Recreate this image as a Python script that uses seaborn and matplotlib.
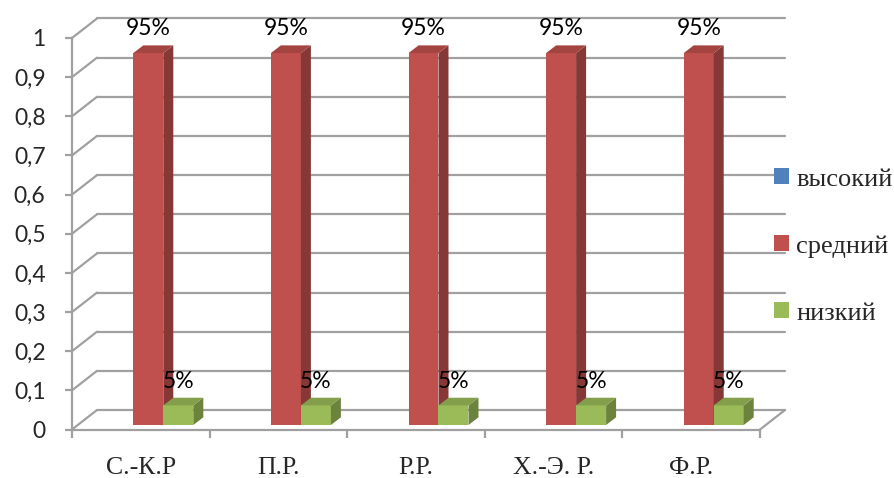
import numpy as np
import pandas as pd
import seaborn as sns
import matplotlib.colors as mcolors
from matplotlib import pyplot as plt
from matplotlib.patches import Polygon, Patch
from matplotlib.font_manager import FontProperties

# Данные
categories = ["С.-К.Р", "П.Р.", "Р.Р.", "Х.-Э. Р.", "Ф.Р."]
levels = ["высокий", "средний", "низкий"]
vysokiy = [0, 0, 0, 0, 0]
sredniy = [0.95, 0.95, 0.95, 0.95, 0.95]
nizkiy = [0.05, 0.05, 0.05, 0.05, 0.05]
colors = ["#4F81BD", "#C0504D", "#9BBB59"]
y_ticks = [0, 0.1, 0.2, 0.3, 0.4, 0.5, 0.6, 0.7, 0.8, 0.9, 1]
y_labels = ["0", "0,1", "0,2", "0,3", "0,4", "0,5", "0,6", "0,7", "0,8", "0,9", "1"]

df = pd.DataFrame({
    "category": categories * 3,
    "level": np.repeat(levels, len(categories)),
    "value": vysokiy + sredniy + nizkiy,
})

sns.set_theme(style="white")
grid_color = "#A0A0A0"
num_font = "Lato"
serif_font = "Liberation Serif"

fig = plt.figure(figsize=(8.95, 4.78), dpi=100)
ax = fig.add_axes([72 / 895, (478 - 429.5) / 478, 688 / 895, 391.5 / 478])

sns.barplot(data=df, x="category", y="value", hue="level",
            order=categories, hue_order=levels, palette=colors,
            width=0.654, gap=0, saturation=1, linewidth=0,
            errorbar=None, legend=False, ax=ax)

ax.set_xlim(-0.5, 4.5)
ax.set_ylim(0, 1)


def px2data(dx, dy):
    inv = ax.transData.inverted()
    x0, y0 = inv.transform((0, 0))
    x1, y1 = inv.transform((dx, dy))
    return x1 - x0, y1 - y0


# псевдо-3D: задняя стенка, сдвиг столбцов, глубина столбцов
bdx, bdy = px2data(25, 19.5)
odx, ody = px2data(7.5, 4.5)
ddx, ddy = px2data(10, 7.7)

# сетка на задней стенке + левая стенка + пол
for y in y_ticks:
    ax.plot([-0.5 + bdx, 4.5 + bdx], [y + bdy, y + bdy], color=grid_color,
            lw=1.6, clip_on=False, zorder=0)
    ax.plot([-0.5, -0.5 + bdx], [y, y + bdy], color=grid_color,
            lw=1.6, clip_on=False, zorder=0)
ax.plot([4.5, 4.5 + bdx], [0, bdy], color=grid_color, lw=1.6,
        clip_on=False, zorder=0)

# столбцы с боковыми и верхними гранями
for i, cont in enumerate(ax.containers):
    base = mcolors.to_rgb(colors[i])
    side = tuple(c * 0.7 for c in base)
    top = tuple(c * 0.85 for c in base)
    for bar in cont:
        bar.set_x(bar.get_x() + odx)
        bar.set_y(bar.get_y() + ody)
        bar.set_zorder(2 + i)
        if bar.get_height() == 0:
            bar.set_visible(False)
            continue
        x0, y0 = bar.get_x(), bar.get_y()
        w, h = bar.get_width(), bar.get_height()
        ax.add_patch(Polygon([(x0 + w, y0), (x0 + w + ddx, y0 + ddy),
                              (x0 + w + ddx, y0 + h + ddy), (x0 + w, y0 + h)],
                             closed=True, facecolor=side, lw=0,
                             zorder=2 + i + 0.1, clip_on=False))
        ax.add_patch(Polygon([(x0, y0 + h), (x0 + ddx, y0 + h + ddy),
                              (x0 + w + ddx, y0 + h + ddy), (x0 + w, y0 + h)],
                             closed=True, facecolor=top, lw=0,
                             zorder=2 + i + 0.1, clip_on=False))
    vals = [b.get_height() for b in cont]
    texts = ax.bar_label(cont, labels=[f"{v:.0%}" if v > 0 else "" for v in vals],
                         padding=10, fontsize=16.5, family=num_font, color="black")
    for t in texts:
        t.set_zorder(10)

# оси
for s in ["top", "right"]:
    ax.spines[s].set_visible(False)
for s in ["left", "bottom"]:
    ax.spines[s].set_color(grid_color)
    ax.spines[s].set_linewidth(1.6)
    ax.spines[s].set_zorder(0.5)

ax.set_yticks(y_ticks)
ax.set_yticklabels(y_labels, fontsize=16.5, family=num_font)
ax.tick_params(axis="y", left=True, length=5, width=1.6, color=grid_color, pad=14)

ax.set_xticks(range(len(categories)))
ax.set_xticklabels(categories, fontsize=18.5, family=serif_font)
ax.set_xticks([x - 0.5 for x in range(len(categories) + 1)], minor=True)
ax.tick_params(axis="x", which="major", bottom=True, length=0, pad=20)
ax.tick_params(axis="x", which="minor", bottom=True, length=6, width=1.6,
               color=grid_color)
ax.set_xlabel("")
ax.set_ylabel("")

handles = [Patch(facecolor=c, edgecolor="none") for c in colors]
fig.legend(handles, levels, loc="center left",
           bbox_to_anchor=(774 / 895, 1 - 246.5 / 478),
           frameon=False, prop=FontProperties(family=serif_font, size=19),
           handlelength=0.55, handleheight=0.55, handletextpad=0.3,
           labelspacing=1.69, borderpad=0, borderaxespad=0)

fig.savefig("out.png", dpi=100)
